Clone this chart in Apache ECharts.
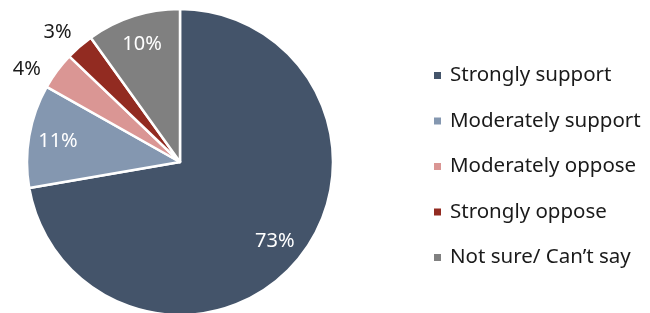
<!DOCTYPE html>
<html>
<head>
<meta charset="utf-8">
<script src="https://cdn.jsdelivr.net/npm/echarts@6/dist/echarts.min.js"></script>
<style>
  html, body { margin: 0; padding: 0; background: #fff; }
  #chart { width: 650px; height: 313px; }
</style>
</head>
<body>
<div id="chart"></div>
<script>
var categories = ['Strongly support', 'Moderately support', 'Moderately oppose', 'Strongly oppose', 'Not sure/ Can\u2019t say'];
var values = [73, 11, 4, 3, 10];
var colors = ['#44546A', '#8497B0', '#DA9694', '#922B21', '#808080'];
// which labels sit inside the slice (white) and which outside (dark)
var insideLabel = [true, true, false, false, true];

var chart = echarts.init(document.getElementById('chart'));
var FONT = '"Noto Sans", sans-serif';
var CX = 180, CY = 162, R = 153;
// small nudges for the two outside labels (Excel best-fit placement)
var outsideNudge = { 2: [-2, 19], 3: [1, 12] };

function pieData(showFn, transparent) {
    return categories.map(function (name, i) {
        var lbl = { show: showFn(i) };
        if (transparent && outsideNudge[i] && showFn(i)) lbl.offset = outsideNudge[i];
        return {
            name: name,
            value: values[i],
            itemStyle: { color: transparent ? 'rgba(0,0,0,0)' : colors[i] },
            label: lbl
        };
    });
}

// invisible ring used only to place the percentage labels at the right distance
function labelRing(r0, r1, showFn, color) {
    return {
        type: 'pie',
        silent: true,
        center: [CX, CY],
        radius: [r0, r1],
        startAngle: 90,
        legendHoverLink: false,
        emphasis: { disabled: true },
        labelLine: { show: false },
        label: {
            position: 'inside',
            formatter: '{c}%',
            color: color,
            fontFamily: FONT,
            fontSize: 20
        },
        data: pieData(showFn, true)
    };
}

chart.setOption({
    animation: false,
    legend: {
        orient: 'vertical',
        left: 427,
        top: 60,
        itemWidth: 9,
        itemHeight: 9,
        itemGap: 24.5,
        icon: 'rect',
        data: categories,
        textStyle: {
            fontFamily: FONT,
            fontSize: 20.5,
            lineHeight: 20,
            color: '#1a1a1a',
            padding: [0, 0, 0, 3]
        }
    },
    series: [
        {
            type: 'pie',
            center: [CX, CY],
            radius: [0, R],
            startAngle: 90,
            clockwise: true,
            itemStyle: { borderColor: '#fff', borderWidth: 2.5 },
            label: { show: false },
            labelLine: { show: false },
            emphasis: { scale: false },
            data: pieData(function () { return false; }, false)
        },
        labelRing(R * 0.58, R, function (i) { return insideLabel[i]; }, '#fff'),
        labelRing(R * 1.12, R * 1.3, function (i) { return !insideLabel[i]; }, '#1a1a1a')
    ]
});
</script>
</body>
</html>
